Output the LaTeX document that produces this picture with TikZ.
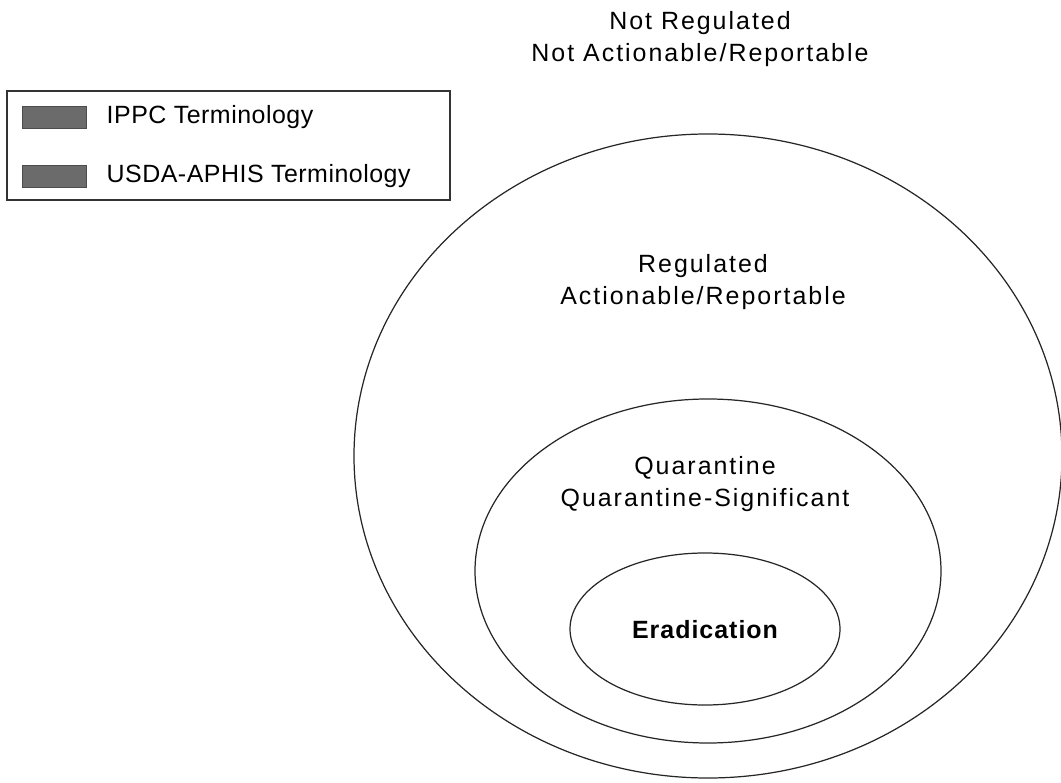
\documentclass[tikz,border=0pt]{standalone}
\usepackage{fontspec}
\setmainfont{Liberation Sans}
\newfontfamily\ringfont[LetterSpace=8]{Liberation Sans}
\newfontfamily\keyfont[LetterSpace=2]{Liberation Sans}
\usetikzlibrary{positioning}

\tikzset{
  ring/.style={line width=0.7pt, black!85},
  ringlabel/.style={align=center, inner sep=0, font=\ringfont\fontsize{14.2}{18.2}\selectfont},
  swatch/.style={fill=black!58, draw=black!70, minimum width=1.28cm, minimum height=0.44cm, inner sep=0},
  keylabel/.style={inner sep=0, anchor=west, font=\keyfont\fontsize{14.2}{17}\selectfont},
}

\begin{document}
\begin{tikzpicture}[x=0.02cm, y=-0.02cm]

  \useasboundingbox (0, 0) rectangle (1061, 783);

  % nested rings
  \foreach \cx/\cy/\rx/\ry in {708/456/354/322, 708/571/233/172, 705/629/135/76} {
    \draw[ring] (\cx, \cy) ellipse [x radius=\rx, y radius=\ry];
  }

  \node[ringlabel] (notreg) at (700, 39) {Not Regulated\\Not Actionable/Reportable};
  \node[ringlabel] (reg) at (703, 282) {Regulated\\Actionable/Reportable};
  \node[ringlabel] (quar) at (705, 484) {Quarantine\\Quarantine-Significant};
  \node[ringlabel, font=\keyfont\bfseries\addfontfeature{LetterSpace=4}\fontsize{14.2}{18.2}\selectfont] (erad) at (705, 630) {Eradication};

  % legend
  \draw[line width=0.6pt, black!80] (7, 91) rectangle (450, 200);
  \node[swatch] (swippc) at (54, 117) {};
  \node[swatch] (swusda) at (54, 176.5) {};
  \node[keylabel, right=0.4cm of swippc] (ippc) {IPPC Terminology};
  \node[keylabel, right=0.4cm of swusda] (usda) {USDA-APHIS Terminology};

\end{tikzpicture}
\end{document}
